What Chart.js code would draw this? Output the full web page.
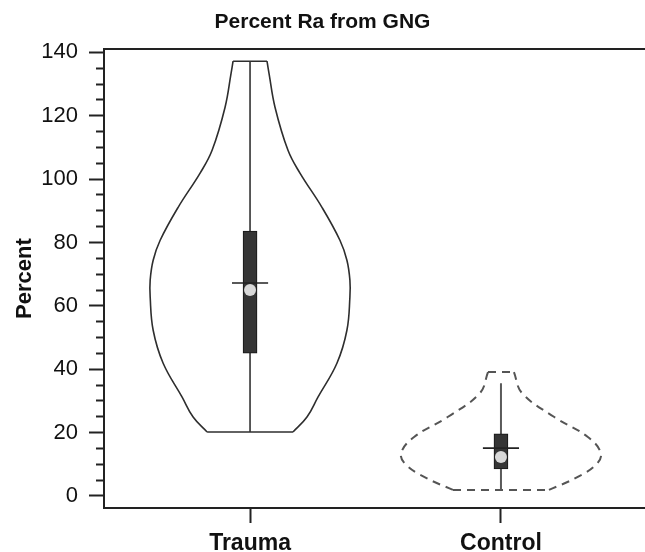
<!DOCTYPE html>
<html>
<head>
<meta charset="utf-8">
<script src="https://cdn.jsdelivr.net/npm/chart.js@4.4.1/dist/chart.umd.min.js"></script>
<style>
  body { margin: 0; background: #fff; }
</style>
</head>
<body>
<canvas id="myChart" width="645" height="552"></canvas>
<script>
// groups on the x axis (positions 1, 2)
const groups = ['Trauma', 'Control'];

// violin outlines: percent levels and relative density (1 = widest)
const traumaLevels = [137.2, 133.4, 122.7, 109.1, 101.9, 91.1, 80.7, 74.4, 68.1, 62.8, 52.3, 41.9, 31.2, 24.9, 20.2];
const traumaDensity = [0.17, 0.19, 0.25, 0.38, 0.50, 0.72, 0.90, 0.97, 1.0, 1.0, 0.97, 0.87, 0.68, 0.57, 0.43];
const controlLevels = [39.1, 32.5, 25.0, 18.6, 13.5, 9.8, 5.7, 1.9];
const controlDensity = [0.13, 0.21, 0.53, 0.87, 1.0, 0.95, 0.75, 0.48];

// box plot stats per group
const q1 = [45.1, 8.5];
const q3 = [83.6, 19.6];
const medians = [67.2, 15.1];
const means = [65.0, 12.3];
const whiskerLow = [20.2, 1.9];
const whiskerHigh = [137.2, 35.6];

// y axis ticks
const yMajorStep = 20;
const yMinorStep = 5;

const HALF = 0.398;      // half width of violin at density 1 (x units)
const MEDIAN_HALF = 0.072;
const FONT = "'Liberation Sans', Arial, Helvetica, sans-serif";

function violin(center, levels, density, style) {
    const left = levels.map((y, i) => ({x: center - density[i] * HALF, y: y}));
    const right = levels.map((y, i) => ({x: center + density[i] * HALF, y: y}));
    const last = levels.length - 1;
    const base = {
        type: 'scatter', showLine: true, pointRadius: 0, order: 4,
        borderColor: style.color, borderWidth: style.width, borderDash: style.dash, fill: false
    };
    return [
        Object.assign({}, base, {data: left, tension: 0.4}),
        Object.assign({}, base, {data: right, tension: 0.4}),
        Object.assign({}, base, {data: [left[0], right[0]], tension: 0}),
        Object.assign({}, base, {data: [left[last], right[last]], tension: 0})
    ];
}

const violinStyles = [
    {color: '#2e2e2e', width: 1.6, dash: []},
    {color: '#555555', width: 2, dash: [8, 6]}
];
const whiskerStyles = [
    {color: '#333333', width: 1.6},
    {color: '#5a5a5a', width: 2}
];

const datasets = [];
datasets.push(...violin(1, traumaLevels, traumaDensity, violinStyles[0]));
datasets.push(...violin(2, controlLevels, controlDensity, violinStyles[1]));

groups.forEach((g, i) => {
    datasets.push({
        type: 'scatter', showLine: true, pointRadius: 0, order: 3,
        borderColor: whiskerStyles[i].color, borderWidth: whiskerStyles[i].width,
        data: [{x: i + 1, y: whiskerLow[i]}, {x: i + 1, y: whiskerHigh[i]}]
    });
    datasets.push({
        type: 'scatter', showLine: true, pointRadius: 0, order: 1,
        borderColor: '#222222', borderWidth: 1.6,
        data: [{x: i + 1 - MEDIAN_HALF, y: medians[i]}, {x: i + 1 + MEDIAN_HALF, y: medians[i]}]
    });
});

datasets.push({
    type: 'bar', order: 2,
    data: groups.map((g, i) => ({x: i + 1, y: [q1[i], q3[i]]})),
    backgroundColor: '#353535', borderColor: '#151515', borderWidth: 1,
    borderSkipped: false, barThickness: 14
});

datasets.push({
    type: 'scatter', order: 0,
    data: groups.map((g, i) => ({x: i + 1, y: means[i]})),
    pointRadius: 6, pointBackgroundColor: '#d8d8d8', pointBorderWidth: 0
});

const xMin = 0.418, xMax = 2.574;

const config = {
    type: 'scatter',
    data: {datasets: datasets},
    options: {
        responsive: false,
        animation: false,
        layout: {padding: 0, autoPadding: false},
        plugins: {
            legend: {display: false},
            tooltip: {enabled: false},
            title: {
                display: true,
                text: 'Percent Ra from GNG',
                color: '#111',
                font: {family: FONT, size: 21, weight: 'bold'},
                padding: {top: 10, bottom: 14}
            }
        },
        scales: {
            x: {
                type: 'linear',
                min: xMin, max: xMax,
                offset: false,
                afterBuildTicks: (scale) => { scale.ticks = groups.map((g, i) => ({value: i + 1})); },
                afterFit: (scale) => { scale.height = 44; },
                ticks: {
                    callback: (v, i) => groups[i],
                    color: '#111',
                    font: {family: FONT, size: 23, weight: 'bold'},
                    padding: 7,
                    maxRotation: 0
                },
                grid: {offset: false, drawOnChartArea: false, tickLength: 15, tickColor: '#222', tickWidth: 2},
                border: {color: '#222', width: 2}
            },
            x2: {
                type: 'linear', position: 'top',
                min: xMin, max: xMax,
                offset: false,
                grid: {display: false, drawTicks: false},
                ticks: {display: false},
                border: {display: true, color: '#222', width: 2}
            },
            y: {
                type: 'linear',
                min: -3.8, max: 141,
                afterFit: (scale) => { scale.width = 104; },
                ticks: {
                    stepSize: yMinorStep,
                    includeBounds: false,
                    autoSkip: false,
                    callback: (v) => (v % yMajorStep === 0 ? v : ''),
                    color: '#111',
                    font: {family: FONT, size: 22},
                    padding: 11
                },
                grid: {
                    drawOnChartArea: false,
                    tickLength: 15,
                    tickColor: '#222',
                    tickWidth: 2,
                    tickBorderDash: (ctx) => (ctx.tick && ctx.tick.value % yMajorStep !== 0 ? [8, 7] : []),
                    tickBorderDashOffset: (ctx) => (ctx.tick && ctx.tick.value % yMajorStep !== 0 ? 8 : 0)
                },
                border: {color: '#222', width: 2},
                title: {
                    display: true,
                    text: 'Percent',
                    color: '#111',
                    font: {family: FONT, size: 22, weight: 'bold'},
                    padding: {top: 12, bottom: 0}
                }
            }
        }
    }
};

const myChart = new Chart(document.getElementById('myChart'), config);
</script>
</body>
</html>
